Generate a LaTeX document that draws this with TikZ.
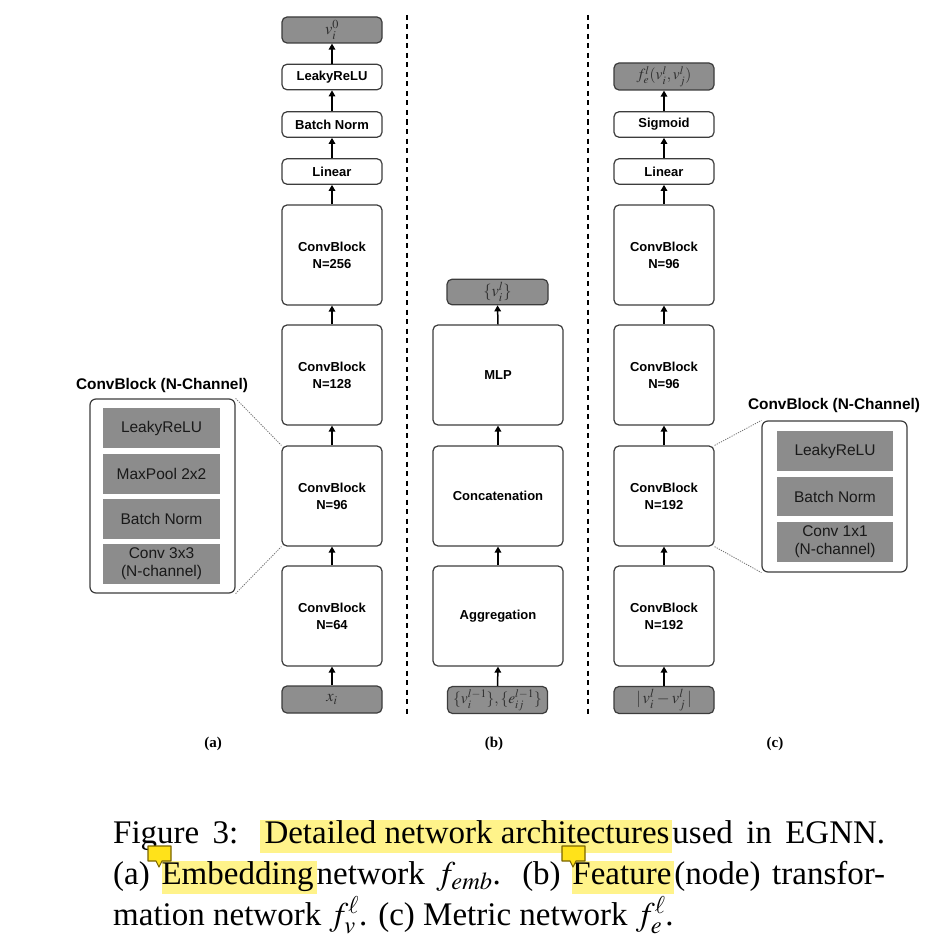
\documentclass[tikz,border=0pt]{standalone}
\usepackage{mathptmx}
\usepackage[no-math]{fontspec}
\setmainfont{Liberation Serif}
\newfontfamily\hv{Liberation Sans}
\usetikzlibrary{arrows.meta}
\definecolor{bordc}{HTML}{3C3C3C}
\definecolor{iogray}{HTML}{8E8E8E}
\definecolor{innerg}{HTML}{8C8C8C}
\definecolor{mathc}{HTML}{2E2E2E}
\definecolor{hly}{HTML}{FFF38A}
\definecolor{iconY}{HTML}{FFE21A}
\definecolor{iconB}{HTML}{7A6500}
\newcommand{\hlw}[1]{{\setlength\fboxsep{0pt}\colorbox{hly}{\rule[-9.5pt]{0pt}{33pt}#1}}}
\newcommand{\capfont}{\fontsize{33}{41}\selectfont}
\begin{document}
\begin{tikzpicture}[x=1pt,y=-1pt,
  blk/.style={draw=bordc, line width=1.2pt, rounded corners=5pt, fill=white,
    minimum width=100pt, font=\hv\bfseries\fontsize{13}{17}\selectfont, align=center, inner sep=0pt},
  iobox/.style={blk, fill=iogray, font=\fontsize{16.5}{18}\selectfont, text=mathc},
  bigbox/.style={blk, minimum height=100pt},
  smbox/.style={blk, minimum height=25.5pt},
  widebox/.style={bigbox, minimum width=130pt},
  arr/.style={-{Triangle[width=6.5pt,length=6pt]}, line width=1.5pt, draw=black},
  sepline/.style={line width=2.8pt, dash pattern=on 5pt off 4.5pt, draw=black},
  detail/.style={draw=bordc, line width=1.2pt, rounded corners=6pt, fill=white, inner sep=0pt},
  innerbox/.style={fill=innerg, minimum width=117pt, inner sep=0pt, align=center,
    font=\hv\fontsize{15.5}{18}\selectfont, text=black!90},
  dtitle/.style={font=\hv\bfseries\fontsize{15.4}{18}\selectfont, inner sep=0pt},
  conn/.style={draw=black!55, line width=0.8pt, dash pattern=on 1.2pt off 1.2pt},
  sublabel/.style={font=\bfseries\fontsize{15}{17}\selectfont, inner sep=0pt},
  capline/.style={anchor=base west, inner sep=0pt, font=\capfont},
  commenticon/.style={fill=iconY, draw=iconB, line width=1.1pt, line join=round}
]
\useasboundingbox (0,0) rectangle (946,942);
\fill[white] (0,0) rectangle (946,942);

% ---------- column (a) ----------
\node[iobox, minimum height=26pt] (va0) at (332,30) {$v_i^0$};
\node[smbox] (a7) at (332,77) {LeakyReLU};
\node[smbox] (a6) at (332,124.5) {Batch Norm};
\node[smbox] (a5) at (332,171.5) {Linear};
\node[bigbox] (a4) at (332,255) {ConvBlock\\N=256};
\node[bigbox] (a3) at (332,375) {ConvBlock\\N=128};
\node[bigbox] (a2) at (332,496) {ConvBlock\\N=96};
\node[bigbox] (a1) at (332,616) {ConvBlock\\N=64};
\node[iobox, minimum height=27pt] (xi) at (332,699.5) {$x_i$};
\draw[arr] (xi.north) -- (a1.south);
\draw[arr] (a1.north) -- (a2.south);
\draw[arr] (a2.north) -- (a3.south);
\draw[arr] (a3.north) -- (a4.south);
\draw[arr] (a4.north) -- (a5.south);
\draw[arr] (a5.north) -- (a6.south);
\draw[arr] (a6.north) -- (a7.south);
\draw[arr] (a7.north) -- (va0.south);
\node[sublabel] (la) at (213,744) {(a)};

% left detail
\node[dtitle] (dlt) at (162,386) {ConvBlock (N-Channel)};
\node[detail, minimum width=145pt, minimum height=194pt] (dl) at (162.5,496) {};
\node[innerbox, minimum height=40pt] (dl1) at (161.5,428) {LeakyReLU};
\node[innerbox, minimum height=40pt] (dl2) at (161.5,473.5) {MaxPool 2x2};
\node[innerbox, minimum height=40pt] (dl3) at (161.5,518.5) {Batch Norm};
\node[innerbox, minimum height=40pt] (dl4) at (161.5,563.5) {Conv 3x3\\(N-channel)};
\draw[conn] (dl.north east) -- (a2.north west);
\draw[conn] (dl.south east) -- (a2.south west);

% ---------- column (b) ----------
\node[iobox, minimum width=101pt, minimum height=25.5pt] (bout) at (497.5,292) {$\{v_i^l\}$};
\node[widebox] (b3) at (498,375) {MLP};
\node[widebox] (b2) at (498,496) {Concatenation};
\node[widebox] (b1) at (498,616) {Aggregation};
\node[iobox, minimum width=100pt, minimum height=27pt, font=\fontsize{15.5}{17}\selectfont] (bin) at (497.5,700) {$\{v_i^{l-1}\},\{e_{ij}^{l-1}\}$};
\draw[arr] (bin.north) -- (b1.south);
\draw[arr] (b1.north) -- (b2.south);
\draw[arr] (b2.north) -- (b3.south);
\draw[arr] (b3.north) -- (bout.south);
\node[sublabel] (lb) at (494,744) {(b)};

% ---------- column (c) ----------
\node[iobox, minimum height=27pt, font=\fontsize{15.5}{17}\selectfont] (cout) at (664,76.5) {$f_e^l(v_i^l,v_j^l)$};
\node[smbox] (c6) at (664,124.5) {Sigmoid};
\node[smbox] (c5) at (664,171.5) {Linear};
\node[bigbox] (c4) at (664,255) {ConvBlock\\N=96};
\node[bigbox] (c3) at (664,375) {ConvBlock\\N=96};
\node[bigbox] (c2) at (664,496) {ConvBlock\\N=192};
\node[bigbox] (c1) at (664,616) {ConvBlock\\N=192};
\node[iobox, minimum height=27pt] (cin) at (664,700) {$|\,v_i^l-v_j^l\,|$};
\draw[arr] (cin.north) -- (c1.south);
\draw[arr] (c1.north) -- (c2.south);
\draw[arr] (c2.north) -- (c3.south);
\draw[arr] (c3.north) -- (c4.south);
\draw[arr] (c4.north) -- (c5.south);
\draw[arr] (c5.north) -- (c6.south);
\draw[arr] (c6.north) -- (cout.south);
\node[sublabel] (lc) at (775,744) {(c)};

% right detail
\node[dtitle] (drt) at (834,406) {ConvBlock (N-Channel)};
\node[detail, minimum width=145pt, minimum height=151pt] (dr) at (834.5,496.5) {};
\node[innerbox, minimum width=116pt, minimum height=40pt] (dr1) at (835,451) {LeakyReLU};
\node[innerbox, minimum width=116pt, minimum height=39pt] (dr2) at (835,496.5) {Batch Norm};
\node[innerbox, minimum width=116pt, minimum height=40pt] (dr3) at (835,542) {Conv 1x1\\(N-channel)};
\draw[conn] (c2.north east) -- (dr.north west);
\draw[conn] (c2.south east) -- (dr.south west);

% separators
\coordinate (s1t) at (407,15);
\coordinate (s1b) at (407,717);
\coordinate (s2t) at (588,15);
\coordinate (s2b) at (588,717);
\draw[sepline] (s1t) -- (s1b);
\draw[sepline] (s2t) -- (s2b);

% ---------- caption ----------
\node[capline] (cap1) at (113,843) {\hbox to 772pt{Figure 3: \hlw{\kern5pt Detailed network architectures\kern3pt}used in EGNN.}};
\node[capline] (cap2) at (113,884) {\hbox to 772pt{(a) \hlw{Embedding\kern3pt}network $f_{emb}$. (b) \hlw{Feature\kern3pt}(node) transfor-}};
\node[capline] (cap3) at (113,925) {mation network $f_v^\ell$. (c) Metric network $f_e^\ell$.};

% comment icons
\draw[commenticon] (148,846) -- (171,846) -- (171,861) -- (162,861) -- (159,867) -- (156,861) -- (148,861) -- cycle;
\draw[commenticon] (562,846) -- (585,846) -- (585,861) -- (576,861) -- (573,867) -- (570,861) -- (562,861) -- cycle;
\end{tikzpicture}
\end{document}
